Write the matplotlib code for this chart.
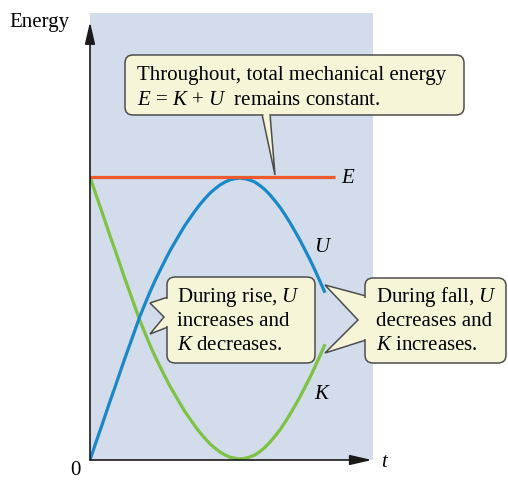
import matplotlib
matplotlib.use("Agg")
import matplotlib.pyplot as plt
from matplotlib.patches import FancyBboxPatch, Polygon

plt.rcParams['font.family'] = ['Liberation Serif', 'DejaVu Serif']
plt.rcParams['mathtext.fontset'] = 'custom'
plt.rcParams['mathtext.rm'] = 'Liberation Serif'
plt.rcParams['mathtext.it'] = 'Liberation Serif:italic'

# ---- data (time in units of time-to-top, energy in units of E) ----
t_E = [0.0, 1.633]
E = [1.0, 1.0]

t = [0, 0.033, 0.067, 0.1, 0.133, 0.167, 0.2, 0.233, 0.267, 0.3,
     0.333, 0.367, 0.4, 0.433, 0.467, 0.5, 0.533, 0.567, 0.6, 0.633,
     0.667, 0.7, 0.733, 0.767, 0.8, 0.833, 0.867, 0.9, 0.933, 0.967,
     1.0, 1.033, 1.067, 1.1, 1.133, 1.167, 1.2, 1.233, 1.267, 1.3,
     1.333, 1.367, 1.4, 1.433, 1.467, 1.5, 1.533, 1.567]

U = [0.0, 0.052, 0.104, 0.155, 0.207, 0.258, 0.309, 0.360, 0.410, 0.459,
     0.508, 0.552, 0.594, 0.633, 0.670, 0.705, 0.739, 0.770, 0.800, 0.829,
     0.855, 0.880, 0.903, 0.924, 0.943, 0.958, 0.972, 0.982, 0.990, 0.994,
     0.996, 0.994, 0.989, 0.982, 0.970, 0.955, 0.937, 0.916, 0.893, 0.867,
     0.839, 0.808, 0.777, 0.743, 0.708, 0.671, 0.632, 0.591]

K = [1.0, 0.948, 0.896, 0.845, 0.793, 0.742, 0.691, 0.640, 0.590, 0.541,
     0.492, 0.448, 0.406, 0.367, 0.330, 0.295, 0.261, 0.230, 0.200, 0.171,
     0.145, 0.120, 0.097, 0.076, 0.057, 0.042, 0.028, 0.018, 0.010, 0.006,
     0.004, 0.006, 0.011, 0.018, 0.030, 0.045, 0.063, 0.084, 0.107, 0.133,
     0.161, 0.192, 0.223, 0.257, 0.292, 0.329, 0.368, 0.409]

t_max = 1.887
e_max = 1.5795

# ---- figure ----
W, H = 508, 480
fig = plt.figure(figsize=(W / 100, H / 100), dpi=100)
fig.patch.set_facecolor('white')

ax = fig.add_axes([90 / W, 20 / H, 283 / W, 447 / H])
ax.set_facecolor('#d2dcea')
ax.set_xlim(0, t_max)
ax.set_ylim(0, e_max)
for s in ax.spines.values():
    s.set_visible(False)
ax.set_xticks([])
ax.set_yticks([])

ax.plot(t, K, color='#7dc243', lw=2.3, solid_capstyle='butt', solid_joinstyle='round', zorder=3)
ax.plot(t, U, color='#1a87c9', lw=2.3, solid_capstyle='butt', solid_joinstyle='round', zorder=3)
ax.plot(t_E, E, color='#ee5a2c', lw=2.3, solid_capstyle='butt', zorder=4)

# axis arrows
arrow_kw = dict(arrowstyle='-|>,head_length=0.95,head_width=0.22', color='#1a1a1a',
                lw=1.2, shrinkA=0, shrinkB=0, mutation_scale=14)
ax.annotate('', xy=(0, 0.98), xytext=(0, 0), xycoords='axes fraction',
            textcoords='axes fraction', arrowprops=arrow_kw, annotation_clip=False, zorder=5)
ax.annotate('', xy=(0.996, 0), xytext=(0, 0), xycoords='axes fraction',
            textcoords='axes fraction', arrowprops=arrow_kw, annotation_clip=False, zorder=5)

# ---- overlay in pixel coordinates for labels and callouts ----
ov = fig.add_axes([0, 0, 1, 1], facecolor='none')
ov.set_xlim(0, W)
ov.set_ylim(H, 0)
ov.axis('off')

fs = 15
ov.text(9, 27, 'Energy', fontsize=fs, va='baseline', ha='left')
ov.text(75, 475, '0', fontsize=fs, va='baseline', ha='center')
ov.text(384, 467, 't', fontsize=fs, va='baseline', ha='center', style='italic')
ov.text(348, 183, 'E', fontsize=fs, va='baseline', ha='center', style='italic')
ov.text(322, 252, 'U', fontsize=fs, va='baseline', ha='center', style='italic')
ov.text(321, 399, 'K', fontsize=fs, va='baseline', ha='center', style='italic')

fill = '#f6f5d7'
edge = '#4d4d4d'
lwb = 1.1


def callout(x0, y0, x1, y1, pointer, covers):
    ov.add_patch(Polygon(pointer, closed=True, facecolor=fill, edgecolor=edge,
                         lw=lwb, joinstyle='miter', zorder=5))
    ov.add_patch(FancyBboxPatch((x0, y0), x1 - x0, y1 - y0,
                                boxstyle='round,pad=0,rounding_size=8',
                                facecolor=fill, edgecolor=edge, lw=lwb, zorder=6))
    for c in covers:
        ov.add_patch(Polygon(c, closed=True, facecolor=fill, edgecolor='none', zorder=7))


# top callout
callout(125, 55, 464, 115,
        [(262, 114), (275, 175), (270, 114)],
        [[(263.2, 112), (269.1, 112), (269.4, 117), (263.7, 117)]])
ov.text(137, 80, 'Throughout, total mechanical energy', fontsize=fs, va='baseline', zorder=8)
ov.text(137, 105, r'$E$ = $K$ + $U$  remains constant.', fontsize=fs, va='baseline', zorder=8)

# rise callout
callout(167, 277, 315, 363,
        [(168, 297), (150, 303), (164, 317), (150, 334), (168, 327)],
        [[(166, 298.5), (170, 298.5), (170, 325.5), (166, 325.5)]])
ov.text(177, 302, r'During rise, $U$', fontsize=fs, va='baseline', zorder=8)
ov.text(177, 326, 'increases and', fontsize=fs, va='baseline', zorder=8)
ov.text(177, 350, r'$K$ decreases.', fontsize=fs, va='baseline', zorder=8)

# fall callout
callout(365, 278, 506, 363,
        [(366, 296), (325, 285), (358, 320), (325, 353), (366, 340)],
        [[(364, 297.5), (368, 297.5), (368, 338.5), (364, 338.5)]])
ov.text(376, 302, r'During fall, $U$', fontsize=fs, va='baseline', zorder=8)
ov.text(376, 326, 'decreases and', fontsize=fs, va='baseline', zorder=8)
ov.text(376, 350, r'$K$ increases.', fontsize=fs, va='baseline', zorder=8)

fig.savefig('out.png', dpi=100)
